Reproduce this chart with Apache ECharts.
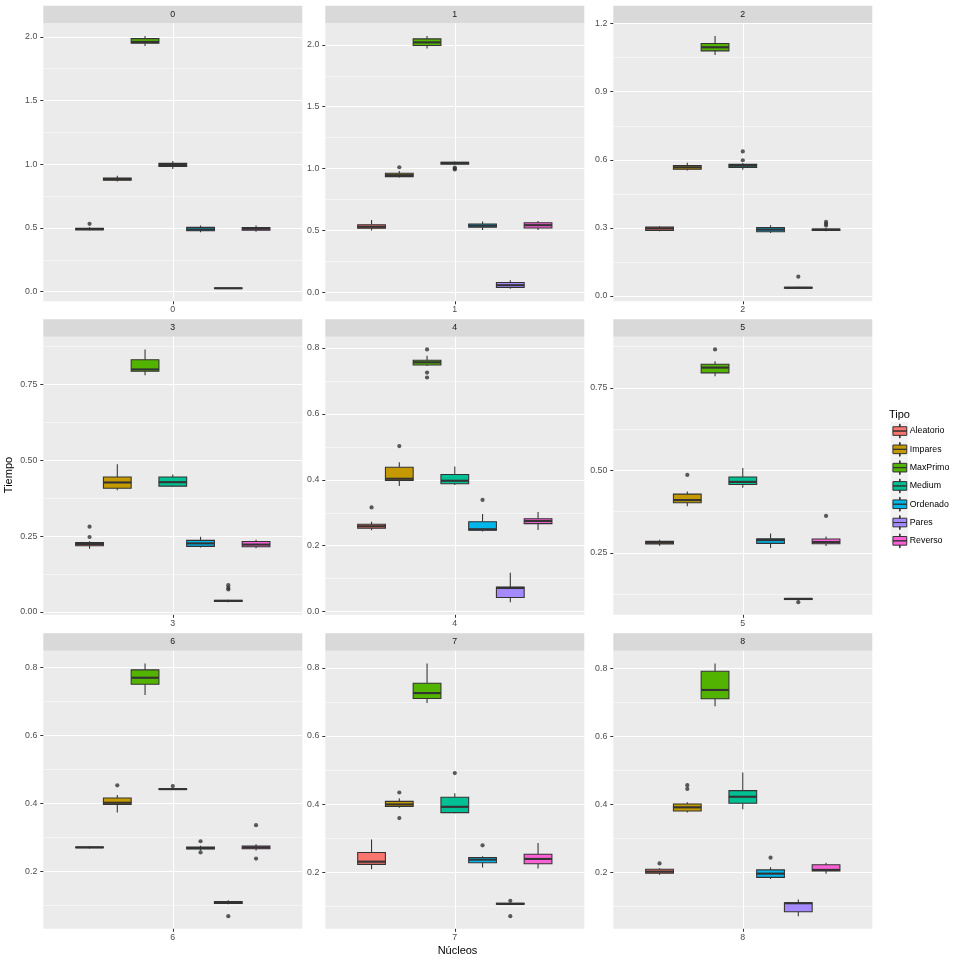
<!DOCTYPE html>
<html><head><meta charset="utf-8">
<script src="https://cdn.jsdelivr.net/npm/echarts@6/dist/echarts.min.js"></script>
<style>html,body{margin:0;padding:0;background:#fff}#c{width:960px;height:960px}</style>
</head><body><div id="c"></div><script>
// ---------- data ----------
const PANELS = ['0','1','2','3','4','5','6','7','8'];
const TYPES = ['Aleatorio','Impares','MaxPrimo','Medium','Ordenado','Pares','Reverso'];
const COLORS = ['#F8766D','#C49A00','#53B400','#00C094','#00B6EB','#A58AFF','#FB61D7'];

// five-number summaries [min, q1, median, q3, max] per panel 0..8
const aleatorio = [
 [0.482,0.486,0.490,0.497,0.505],[0.500,0.518,0.530,0.547,0.585],[0.285,0.289,0.298,0.304,0.307],
 [0.208,0.218,0.224,0.229,0.233],[0.247,0.253,0.259,0.265,0.273],[0.272,0.277,0.281,0.285,0.290],
 [0.268,0.270,0.271,0.272,0.274],[0.209,0.223,0.231,0.258,0.296],[0.193,0.197,0.202,0.209,0.212]];
const impares = [
 [0.865,0.875,0.884,0.893,0.910],[0.928,0.935,0.947,0.963,0.980],[0.553,0.558,0.567,0.575,0.587],
 [0.401,0.408,0.427,0.445,0.487],[0.381,0.398,0.403,0.438,0.453],[0.391,0.402,0.410,0.428,0.436],
 [0.373,0.397,0.402,0.416,0.425],[0.389,0.393,0.399,0.408,0.417],[0.376,0.380,0.391,0.401,0.406]];
const maxPrimo = [
 [1.928,1.950,1.960,1.986,2.007],[1.970,1.995,2.020,2.048,2.072],[1.062,1.080,1.096,1.113,1.146],
 [0.781,0.794,0.800,0.832,0.866],[0.745,0.748,0.756,0.762,0.776],[0.785,0.795,0.811,0.821,0.830],
 [0.718,0.750,0.769,0.792,0.811],[0.697,0.710,0.726,0.755,0.813],[0.688,0.710,0.736,0.791,0.814]];
const medium = [
 [0.962,0.983,0.995,1.007,1.025],[1.033,1.036,1.046,1.052,1.058],[0.556,0.566,0.574,0.580,0.586],
 [0.413,0.415,0.428,0.445,0.453],[0.384,0.388,0.397,0.416,0.440],[0.447,0.457,0.465,0.480,0.507],
 [0.440,0.441,0.442,0.443,0.445],[0.373,0.375,0.392,0.420,0.432],[0.385,0.403,0.422,0.440,0.493]];
const ordenado = [
 [0.466,0.478,0.488,0.505,0.520],[0.505,0.527,0.539,0.553,0.573],[0.277,0.283,0.292,0.301,0.312],
 [0.212,0.216,0.226,0.236,0.248],[0.243,0.247,0.250,0.273,0.296],[0.265,0.279,0.289,0.293,0.309],
 [0.262,0.266,0.269,0.272,0.276],[0.214,0.228,0.237,0.243,0.247],[0.180,0.185,0.196,0.207,0.215]];
const pares = [
 [0.024,0.026,0.027,0.029,0.031],[0.030,0.040,0.058,0.080,0.098],[0.032,0.034,0.036,0.038,0.040],
 [0.032,0.034,0.036,0.038,0.040],[0.029,0.043,0.072,0.075,0.118],[0.107,0.109,0.111,0.112,0.113],
 [0.104,0.106,0.109,0.112,0.116],[0.104,0.106,0.107,0.109,0.110],[0.071,0.084,0.109,0.110,0.120]];
const reverso = [
 [0.470,0.483,0.494,0.504,0.520],[0.505,0.520,0.543,0.562,0.577],[0.285,0.288,0.292,0.295,0.298],
 [0.210,0.215,0.222,0.232,0.238],[0.248,0.267,0.275,0.282,0.302],[0.271,0.278,0.283,0.292,0.300],
 [0.262,0.267,0.271,0.275,0.280],[0.211,0.225,0.239,0.253,0.286],[0.196,0.204,0.207,0.222,0.228]];

// outliers per panel 0..8
const aleatorioOut = [[0.533],[],[],[0.247,0.281],[0.316],[],[],[],[0.226]];
const imparesOut   = [[],[1.011],[],[],[0.502],[0.486],[0.453],[0.434,0.359],[0.456,0.445]];
const maxPrimoOut  = [[],[],[],[],[0.795,0.725,0.710],[0.866],[],[],[]];
const mediumOut    = [[],[1.000,0.993,1.008],[0.598,0.637],[],[],[],[0.451],[0.491],[]];
const ordenadoOut  = [[],[],[],[],[0.339],[],[0.289,0.256],[0.279],[0.243]];
const paresOut     = [[],[],[0.085],[0.088,0.079,0.074],[],[0.101],[0.069],[0.116,0.071],[]];
const reversoOut   = [[],[],[0.310,0.318,0.326],[],[],[0.362],[0.336,0.238],[],[]];

// y tick labels per panel
const yTicks = [
 [0,0.5,1,1.5,2],[0,0.5,1,1.5,2],[0,0.3,0.6,0.9,1.2],[0,0.25,0.5,0.75],[0,0.2,0.4,0.6,0.8],
 [0.25,0.5,0.75],[0.2,0.4,0.6,0.8],[0.2,0.4,0.6,0.8],[0.2,0.4,0.6,0.8]];
const yDecimals = [1,1,1,2,1,2,1,1,1];

const SUMMARY = [aleatorio, impares, maxPrimo, medium, ordenado, pares, reverso];
const OUTLIERS = [aleatorioOut, imparesOut, maxPrimoOut, mediumOut, ordenadoOut, paresOut, reversoOut];

// ---------- layout ----------
const FONT = 'Liberation Sans, Arial, Helvetica, sans-serif';
const COL_LEFT = [43.3, 325.3, 613.3];
const ROW_TOP = [23.3, 336.8, 650.8];
const PANEL_W = 259, PANEL_H = 278, STRIP_H = 17.6;
const DODGE = 0.9, NT = TYPES.length, BOX_W = DODGE / NT;
const xPos = i => 1 + (i - (NT - 1) / 2) * BOX_W;

const grids = [], xAxes = [], yAxes = [], series = [], graphics = [];

PANELS.forEach((name, p) => {
  const r = Math.floor(p / 3), c = p % 3;
  const left = COL_LEFT[c], top = ROW_TOP[r];
  grids.push({left, top, width: PANEL_W, height: PANEL_H, show: true,
    backgroundColor: '#EBEBEB', borderWidth: 0});
  // y range from data (+5% expansion)
  let lo = Infinity, hi = -Infinity;
  for (let i = 0; i < NT; i++) {
    SUMMARY[i][p].concat(OUTLIERS[i][p]).forEach(v => { lo = Math.min(lo, v); hi = Math.max(hi, v); });
  }
  const pad = (hi - lo) * 0.05;
  const ymin = lo - pad, ymax = hi + pad;
  const ticks = yTicks[p];
  const step = ticks[1] - ticks[0];
  const minor = [];
  for (let k = -1; k <= ticks.length; k++) {
    const v = ticks[0] + step * (k + 0.5);
    if (v > ymin && v < ymax) minor.push(+v.toFixed(6));
  }
  xAxes.push({gridIndex: p, type: 'value', min: 0.4, max: 1.6,
    axisLine: {show: false, onZero: false},
    axisTick: {show: true, length: 3, customValues: [1], lineStyle: {color: '#333', width: 1}},
    axisLabel: {customValues: [1], formatter: () => name, margin: 4, color: '#4D4D4D', fontSize: 8.8, fontFamily: FONT},
    splitLine: {show: true, showMinLine: true, showMaxLine: true, lineStyle: {color: '#FFFFFF', width: 1.07}}});
  yAxes.push({gridIndex: p, type: 'value', min: ymin, max: ymax,
    axisLine: {show: false, onZero: false},
    axisTick: {show: true, length: 3, customValues: ticks, lineStyle: {color: '#333', width: 1}},
    axisLabel: {customValues: ticks, formatter: v => v.toFixed(yDecimals[p]), margin: 6,
      color: '#4D4D4D', fontSize: 8.8, fontFamily: FONT},
    splitLine: {show: true, lineStyle: {color: '#FFFFFF', width: 1.07}}});
  yAxes.push({gridIndex: p, type: 'value', min: ymin, max: ymax, position: 'left',
    axisLine: {show: false, onZero: false}, axisTick: {show: false, customValues: minor}, axisLabel: {show: false},
    splitLine: {show: true, lineStyle: {color: '#FFFFFF', width: 0.53}}});

  for (let i = 0; i < NT; i++) {
    series.push({
      type: 'custom', name: TYPES[i], xAxisIndex: p, yAxisIndex: 2 * p,
      itemStyle: {color: COLORS[i]}, silent: true,
      encode: {x: 0, y: [1, 2, 3, 4, 5]},
      data: [[xPos(i)].concat(SUMMARY[i][p])],
      renderItem: (params, api) => {
        const x = api.value(0);
        const hw = api.size([BOX_W, 0])[0] / 2;
        const pMin = api.coord([x, api.value(1)]);
        const pQ1 = api.coord([x, api.value(2)]);
        const pMed = api.coord([x, api.value(3)]);
        const pQ3 = api.coord([x, api.value(4)]);
        const pMax = api.coord([x, api.value(5)]);
        const cx = pMed[0];
        const col = api.visual('color');
        return {type: 'group', children: [
          {type: 'line', shape: {x1: cx, y1: pMax[1], x2: cx, y2: pQ3[1]}, style: {stroke: '#333', lineWidth: 1.07}},
          {type: 'line', shape: {x1: cx, y1: pQ1[1], x2: cx, y2: pMin[1]}, style: {stroke: '#333', lineWidth: 1.07}},
          {type: 'rect', shape: {x: cx - hw, y: pQ3[1], width: 2 * hw, height: pQ1[1] - pQ3[1]},
            style: {fill: col, stroke: '#333', lineWidth: 1.07}},
          {type: 'line', shape: {x1: cx - hw, y1: pMed[1], x2: cx + hw, y2: pMed[1]}, style: {stroke: '#333', lineWidth: 2.13}}
        ]};
      }
    });
  }
  const outData = [];
  for (let i = 0; i < NT; i++) OUTLIERS[i][p].forEach(v => outData.push([xPos(i), v]));
  series.push({type: 'scatter', name: 'outliers', xAxisIndex: p, yAxisIndex: 2 * p, silent: true,
    symbol: 'circle', symbolSize: 4.2, itemStyle: {color: '#333'}, z: 3, data: outData});

  // strip
  graphics.push({type: 'rect', silent: true, shape: {x: left, y: top - STRIP_H, width: PANEL_W, height: STRIP_H},
    style: {fill: '#D9D9D9'}});
  graphics.push({type: 'text', silent: true, x: left + PANEL_W / 2, y: top - STRIP_H / 2,
    style: {text: name, fontSize: 8.8, fontFamily: FONT, fill: '#1A1A1A', align: 'center', verticalAlign: 'middle'}});
});

// legend key backgrounds and titles
const KEY = 17.28, LEG_LEFT = 890.7, LEG_TOP = 421.9;
TYPES.forEach((t, i) => {
  graphics.push({type: 'rect', silent: true, shape: {x: LEG_LEFT, y: LEG_TOP + i * 17.3, width: KEY, height: KEY},
    style: {fill: '#F2F2F2'}});
});
graphics.push({type: 'text', silent: true, x: 889, y: 414.5,
  style: {text: 'Tipo', fontSize: 11, fontFamily: FONT, fill: '#000', align: 'left', verticalAlign: 'middle'}});
graphics.push({type: 'text', silent: true, x: 9, y: 475, rotation: Math.PI / 2,
  style: {text: 'Tiempo', fontSize: 11, fontFamily: FONT, fill: '#000', align: 'center', verticalAlign: 'middle'}});
graphics.push({type: 'text', silent: true, x: 457.5, y: 951,
  style: {text: 'Núcleos', fontSize: 11, fontFamily: FONT, fill: '#000', align: 'center', verticalAlign: 'middle'}});

const ICON = 'path://M1.73,4.32H15.55V8.64H1.73Z M1.73,8.64H15.55V12.96H1.73Z M8.34,1.73H8.94V4.32H8.34Z M8.34,12.96H8.94V15.55H8.34Z';

const option = {
  animation: false,
  backgroundColor: '#FFFFFF',
  grid: grids, xAxis: xAxes, yAxis: yAxes, series,
  legend: {data: TYPES, orient: 'vertical', left: LEG_LEFT + 1.73, top: LEG_TOP + 1.73, padding: 0,
    itemWidth: 13.82, itemHeight: 13.82, itemGap: 3.48, icon: ICON, selectedMode: false,
    itemStyle: {borderColor: '#333', borderWidth: 1},
    textStyle: {fontSize: 8.8, color: '#000', fontFamily: FONT, padding: [0, 0, 0, -2]}},
  graphic: {elements: graphics}
};
const chart = echarts.init(document.getElementById('c'));
chart.setOption(option);
</script></body></html>
